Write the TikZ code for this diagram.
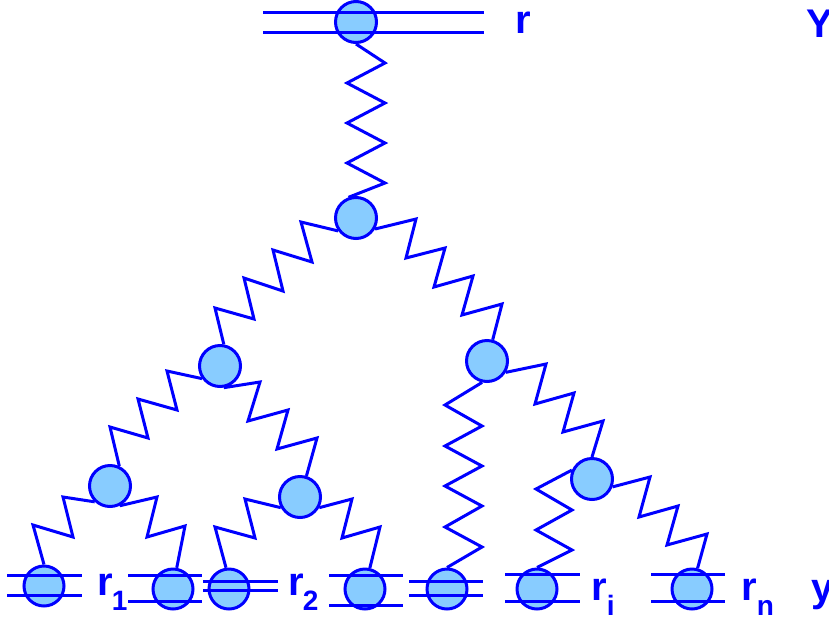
\documentclass[tikz,border=0pt]{standalone}
\usepackage{fontspec}
\setmainfont{Liberation Sans}
\usetikzlibrary{calc}
\definecolor{ln}{RGB}{0,0,255}
\definecolor{bf}{RGB}{136,204,255}
\newcommand\lowsub[1]{\raisebox{-15pt}{\fontsize{28}{28}\selectfont #1}}
\begin{document}
\begin{tikzpicture}[x=1pt,y=-1pt,
  mass/.style={circle,draw=ln,fill=bf,line width=3pt,minimum size=41pt,inner sep=0pt},
  leaf/.style={mass,minimum size=40pt},
  spring/.style={draw=ln,line width=3pt},
  rail/.style={draw=ln,line width=3pt},
  lbl/.style={text=ln,font=\fontsize{40}{40}\selectfont\bfseries,anchor=base west,inner sep=0pt}]
\useasboundingbox (0,0) rectangle (829,624);
% masses
\node[mass] (T) at (356,22) {};
\node[mass] (A) at (356,218) {};
\node[mass] (B) at (220,366) {};
\node[mass] (C) at (487,361) {};
\node[mass] (D) at (110,486) {};
\node[mass] (E) at (300,497) {};
\node[mass] (F) at (592,479) {};
\node[leaf] (L1) at (44,586) {};
\node[leaf] (L2) at (173,589) {};
\node[leaf] (L3) at (229,589) {};
\node[leaf] (L4) at (365,589) {};
\node[leaf] (L5) at (447,589) {};
\node[leaf] (L6) at (537,589) {};
\node[leaf] (L7) at (692,589) {};
% rails
\draw[rail] ($(T)+(-93,-9.5)$) -- ($(T)+(128,-9.5)$);
\draw[rail] ($(T)+(-93,10.5)$) -- ($(T)+(128,10.5)$);
\draw[rail] ($(L1)+(-37,-11)$) -- ($(L1)+(38,-11)$);
\draw[rail] ($(L1)+(-37,9)$) -- ($(L1)+(38,9)$);
\draw[rail] ($(L2)+(-45,-14)$) -- ($(L2)+(29,-14)$);
\draw[rail] ($(L2)+(-45,12)$) -- ($(L2)+(29,12)$);
\draw[rail] ($(L3)+(-26,-8)$) -- ($(L3)+(49,-8)$);
\draw[rail] ($(L3)+(-26,1.5)$) -- ($(L3)+(49,1.5)$);
\draw[rail] ($(L4)+(-36,-14)$) -- ($(L4)+(38,-14)$);
\draw[rail] ($(L4)+(-36,16)$) -- ($(L4)+(38,16)$);
\draw[rail] ($(L5)+(-38,-8)$) -- ($(L5)+(36,-8)$);
\draw[rail] ($(L5)+(-38,6)$) -- ($(L5)+(36,6)$);
\draw[rail] ($(L6)+(-32,-15)$) -- ($(L6)+(43,-15)$);
\draw[rail] ($(L6)+(-32,12)$) -- ($(L6)+(43,12)$);
\draw[rail] ($(L7)+(-41,-15)$) -- ($(L7)+(33,-15)$);
\draw[rail] ($(L7)+(-41,12)$) -- ($(L7)+(33,12)$);
% springs
\draw[spring] (T.south) -- (385,63) -- (347,83) -- (385,103) -- (347,123) -- (385,143) -- (347,163) -- (385,183) -- (A.110);
\draw[spring] (A.216) -- (301,222) -- (312,262) -- (273,250) -- (283,291) -- (244,278) -- (254,319) -- (215,308) -- (B.80);
\draw[spring] (A.330) -- (416,219) -- (406,258) -- (445,248) -- (434,287) -- (473,276) -- (462,315) -- (502,304) -- (C.75);
\draw[spring] (B.215) -- (167,371) -- (177,410) -- (138,399) -- (148,438) -- (110,427) -- (D.65);
\draw[spring] (B.280) -- (260,382) -- (248,421) -- (288,410) -- (277,449) -- (317,438) -- (E.73);
\draw[spring] (C.257) -- (445,405) -- (482,426) -- (445,446) -- (482,466) -- (445,486) -- (482,506) -- (445,527) -- (482,547) -- (L5.north);
\draw[spring] (C.329) -- (546,364) -- (535,404) -- (574,393) -- (563,432) -- (603,421) -- (F.north);
\draw[spring] (D.226) -- (63,497) -- (73,537) -- (33,525) -- (L1.north);
\draw[spring] (D.296) -- (157,497) -- (147,537) -- (185,526) -- (L2.80);
\draw[spring] (E.209) -- (245,499) -- (255,538) -- (215,527) -- (L3.98);
\draw[spring] (E.331) -- (352,499) -- (342,538) -- (380,527) -- (L4.77);
\draw[spring] (F.156) -- (536,489) -- (572,510) -- (536,530) -- (572,550) -- (L6.north);
\draw[spring] (F.339) -- (650,477) -- (639,517) -- (678,506) -- (667,545) -- (707,534) -- (L7.75);
% labels
\node[lbl] (rT) at (515,33) {r};
\node[lbl] (Ylab) at (806,37) {Y};
\node[lbl] (r1) at (97,595) {r\kern-1pt\lowsub{1}};
\node[lbl] (r2) at (288,595) {r\kern-1pt\lowsub{2}};
\node[lbl] (ri) at (591,600) {r\lowsub{i}};
\node[lbl] (rn) at (741,600) {r\lowsub{n}};
\node[lbl] (ylab) at (811,601) {y};
\end{tikzpicture}
\end{document}
